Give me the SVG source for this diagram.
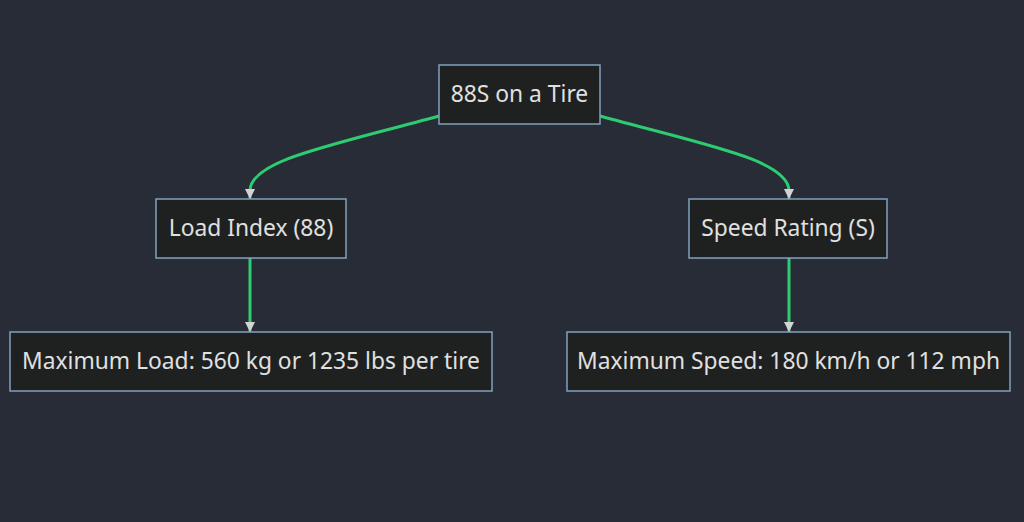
<svg xmlns="http://www.w3.org/2000/svg" width="1024" height="522" viewBox="0 0 1024 522">
<style>
.node rect{fill:#1f2020;stroke:#81a1c1;stroke-width:1.5}
.node text{font-family:"Noto Sans","DejaVu Sans",sans-serif;font-size:22.8px;fill:#e0e0e0;text-anchor:middle;dominant-baseline:central}
.edge{fill:none;stroke:#2ecc71;stroke-width:3}
</style>
<defs>
<marker id="arr" viewBox="0 0 10 10" refX="10" refY="5" markerWidth="10" markerHeight="10" markerUnits="userSpaceOnUse" orient="auto">
<path d="M0,0 L10,5 L0,10 z" fill="#d3d3d3"/>
</marker>
</defs>
<rect width="1024" height="522" fill="#282c37"/>
<g id="connectors">
<path class="edge" d="M439,116 C330,146 252,160 250,190 L250,199" marker-end="url(#arr)"/>
<path class="edge" d="M600,116 C709,146 787,160 789,190 L789,199" marker-end="url(#arr)"/>
<path class="edge" d="M250,258 L250,332" marker-end="url(#arr)"/>
<path class="edge" d="M789,258 L789,332" marker-end="url(#arr)"/>
</g>
<g id="top" class="node"><rect x="439" y="65" width="161" height="59"/><text x="519.5" y="93.5">88S on a Tire</text></g>
<g id="load" class="node"><rect x="156" y="199" width="190" height="59"/><text x="251" y="227.5">Load Index (88)</text></g>
<g id="speed" class="node"><rect x="689" y="199" width="198" height="59"/><text x="788" y="227.5">Speed Rating (S)</text></g>
<g id="maxload" class="node"><rect x="10" y="332" width="482" height="59"/><text x="251" y="360.5">Maximum Load: 560 kg or 1235 lbs per tire</text></g>
<g id="maxspeed" class="node"><rect x="567" y="332" width="443" height="59"/><text x="788.5" y="360.5">Maximum Speed: 180 km/h or 112 mph</text></g>
</svg>
